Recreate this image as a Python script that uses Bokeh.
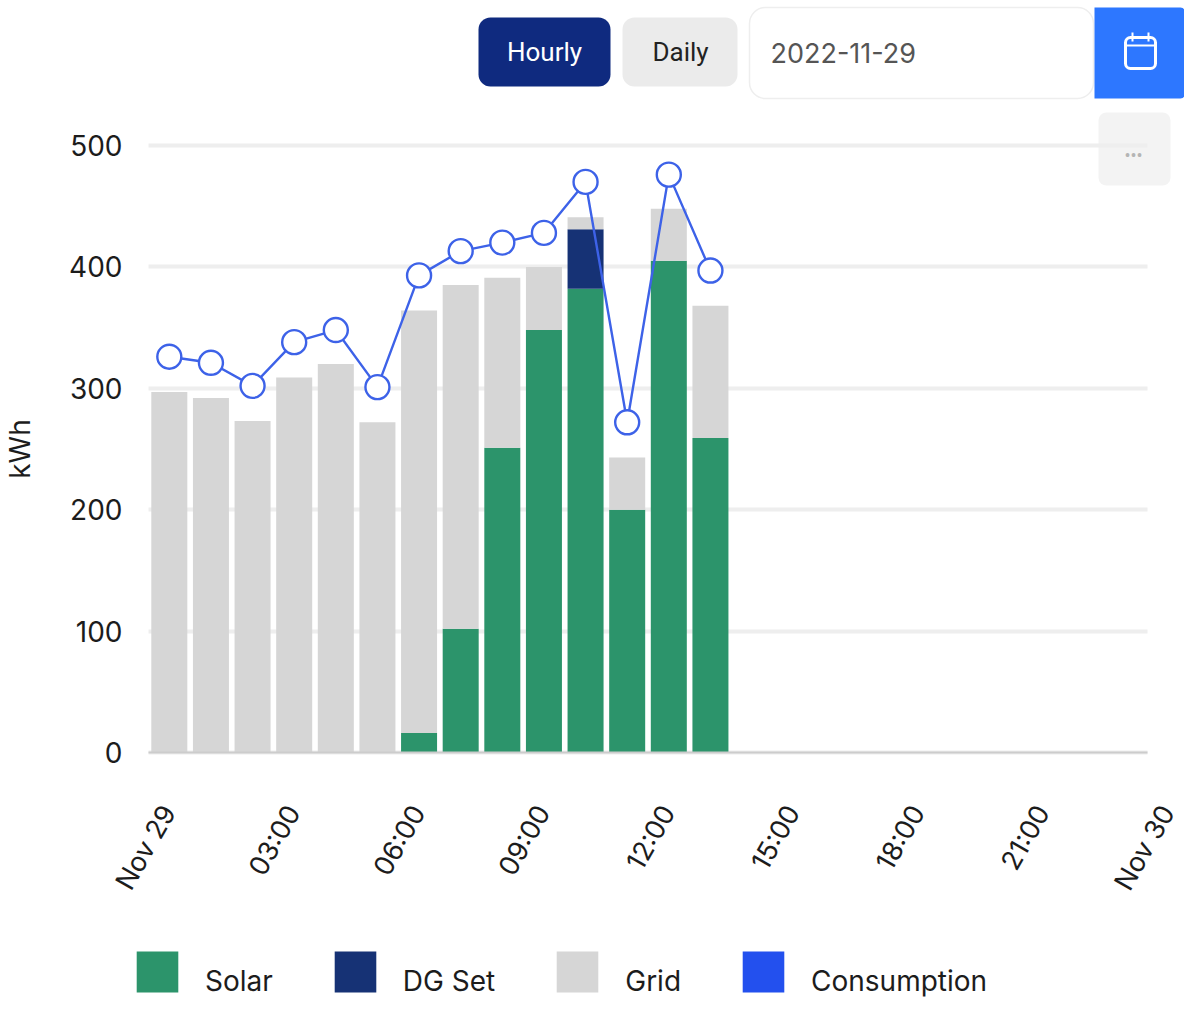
from bokeh.embed import file_html
from bokeh.resources import INLINE
from bokeh.plotting import figure
from bokeh.models import (BoxAnnotation, ColumnDataSource, FixedTicker, Grid, Label, Legend, LegendItem,
                          LinearAxis, Range1d)

hours = [0.5, 1.5, 2.5, 3.5, 4.5, 5.5, 6.5, 7.5, 8.5, 9.5, 10.5, 11.5, 12.5, 13.5]
solar = [0, 0, 0, 0, 0, 0, 16, 102, 251, 348, 382, 200, 405, 259]
dg_set = [0, 0, 0, 0, 0, 0, 0, 0, 0, 0, 49, 0, 0, 0]
grid = [297, 292, 273, 309, 320, 272, 348, 283, 140, 52, 10, 43, 43, 109]
consumption = [326, 321, 302, 338, 348, 301, 393, 413, 420, 428, 470, 272, 476, 397]
x_ticks = [0, 3, 6, 9, 12, 15, 18, 21, 24]
x_labels = ["Nov 29", "03:00", "06:00", "09:00", "12:00", "15:00", "18:00", "21:00", "Nov 30"]
y_ticks = [0, 100, 200, 300, 400, 500]

FONT = "Inter"
INK = "#1c1c1c"
# The frame fills the whole figure, so that controls, axes and legend can all be drawn in it
X_START, X_END = -3.5556, 24.889
Y_START, Y_END = -208.4, 619.44

p = figure(width=1184, height=1005, output_backend="svg", toolbar_location=None,
           x_range=Range1d(X_START, X_END), y_range=Range1d(Y_START, Y_END), x_axis_type=None, y_axis_type=None,
           min_border_left=0, min_border_right=0, min_border_top=0, min_border_bottom=0)
p.outline_line_color = None

# Tick labels are centred on their ticks in the reference, so the axis uses a shifted range
SHIFT = 0.48
p.extra_x_ranges["labels"] = Range1d(X_START - SHIFT, X_END - SHIFT)
xaxis = LinearAxis(x_range_name="labels", ticker=FixedTicker(ticks=x_ticks),
                   major_label_overrides={t: s for t, s in zip(x_ticks, x_labels)},
                   bounds=(0 - SHIFT, 24 - SHIFT), fixed_location=0)
xaxis.major_label_orientation = 1.05
xaxis.major_tick_out = 0
xaxis.major_tick_in = 0
xaxis.major_label_standoff = 55
xaxis.major_label_text_font = FONT
xaxis.major_label_text_font_size = "27px"
xaxis.major_label_text_color = INK
xaxis.major_tick_line_color = None
xaxis.minor_tick_line_color = None
xaxis.axis_line_color = "#cccccc"
xaxis.axis_line_width = 2
p.add_layout(xaxis, "below")

yaxis = LinearAxis(ticker=FixedTicker(ticks=y_ticks), fixed_location=0, bounds=(0, 500))
yaxis.axis_line_color = None
yaxis.major_tick_line_color = None
yaxis.minor_tick_line_color = None
yaxis.major_tick_out = 0
yaxis.major_label_standoff = 26
yaxis.major_label_text_font = FONT
yaxis.major_label_text_font_size = "28px"
yaxis.major_label_text_color = INK
yaxis.axis_label = "kWh"
yaxis.axis_label_text_font = FONT
yaxis.axis_label_text_font_size = "28px"
yaxis.axis_label_text_font_style = "normal"
yaxis.axis_label_text_color = INK
yaxis.axis_label_standoff = 29
p.add_layout(yaxis, "left")

p.add_layout(Grid(dimension=1, ticker=FixedTicker(ticks=y_ticks), grid_line_color="#eeeeee",
                  grid_line_width=4, cross_bounds=(0, 24)))

src = ColumnDataSource(dict(x=hours, solar=solar, dg=dg_set, grid=grid, total=consumption))
colors = ["#2c946b", "#163275", "#d6d6d6"]
stacks = p.vbar_stack(["solar", "dg", "grid"], x="x", width=0.865, color=colors, line_color=None, source=src)

p.line("x", "total", source=src, line_color="#3d62e8", line_width=2.4)
p.scatter("x", "total", source=src, size=24, fill_color="white", line_color="#3d62e8", line_width=2.4)

# Legend swatch for the consumption series (flat bars: the series itself is a line with markers)
swatch = p.vbar(x="x", top=0, width=0.8, source=src, color="#2350ee", line_color=None)

legend = Legend(items=[LegendItem(label="Solar", renderers=[stacks[0]]),
                       LegendItem(label="DG Set", renderers=[stacks[1]]),
                       LegendItem(label="Grid", renderers=[stacks[2]]),
                       LegendItem(label="Consumption", renderers=[swatch])],
                orientation="horizontal", location=(131, 8), border_line_color=None,
                background_fill_alpha=0, glyph_width=52, glyph_height=51, label_standoff=22,
                spacing=56, margin=0, padding=0, label_text_font=FONT,
                label_text_font_size="28px", label_text_color=INK,
                stylesheets=[".bk-label { position: relative; top: 9px; }"])
p.add_layout(legend, "center")


def box(l, t, r, b, fill, line=None, radius=0, lw=1, alpha=1):
    p.add_layout(BoxAnnotation(left=l, right=r, top=t, bottom=b,
                               left_units="canvas", right_units="canvas", top_units="canvas", bottom_units="canvas",
                               fill_color=fill, fill_alpha=alpha if fill else 0,
                               line_color=line, line_alpha=1, line_width=lw, border_radius=radius, level="overlay"))


def text(x, y, s, color, size, font="Roboto", align="center"):
    p.add_layout(Label(x=x, y=y, x_units="canvas", y_units="canvas", text=s, text_color=color,
                       text_font=font, text_font_size=size, text_align=align, text_baseline="middle", level="overlay"))


box(478, 17, 610, 86, "#0f2a7f", radius=12)
text(544, 51, "Hourly", "#ffffff", "26px")
box(622, 17, 737, 86, "#ebebeb", radius=12)
text(680, 51, "Daily", "#222222", "26px")
box(749, 7, 1093, 98, "#ffffff", line="#eeeeee", radius=16, lw=1.5)
text(770, 52, "2022-11-29", "#555555", "27px", font="Inter", align="left")
box(1094, 7, 1184, 98, "#2d77ff", radius=dict(top_left=0, top_right=4, bottom_right=4, bottom_left=0))
box(1125, 37, 1155, 68, None, line="#ffffff", radius=5, lw=3)
box(1125, 44, 1155, 46, "#ffffff")
box(1131, 32, 1133, 41, "#ffffff")
box(1147, 32, 1149, 41, "#ffffff")
box(1098, 112, 1170, 185, "#eeeeee", radius=8, alpha=0.7)
text(1133, 155, "•••", "#b5b5b5", "18px")

open("out.html", "w").write(file_html(p, INLINE))
